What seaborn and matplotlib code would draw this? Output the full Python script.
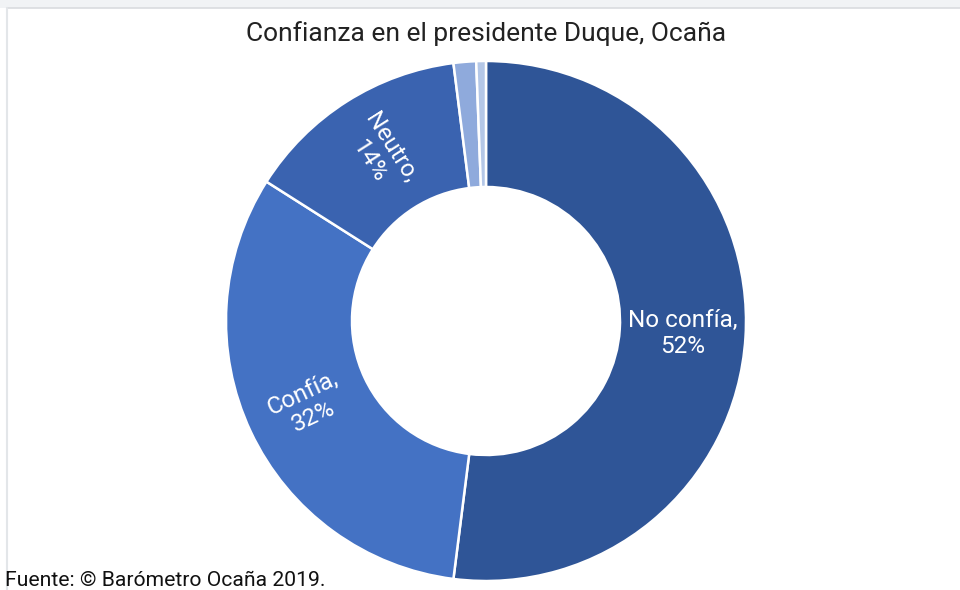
import numpy as np
import matplotlib.pyplot as plt
import seaborn as sns

# data
categorias = ['No confía', 'Confía', 'Neutro', 'NS/NR', 'Otro']
porcentajes = [52, 32, 14, 1.4, 0.6]
mostrar = [True, True, True, False, False]
colores = ['#2F5597', '#4472C4', '#3A63B0', '#8FAADC', '#B4C7E7']

sns.set_theme(style='white')
plt.rcParams['font.family'] = ['Roboto', 'DejaVu Sans']

fig = plt.figure(figsize=(9.6, 5.9), dpi=100)
ax = fig.add_axes([0, 0, 1, 1])

# soft frame: grey band on top, thin line on the left
ax.axhspan(582, 590, xmin=0, xmax=1, color='#F1F3F5', lw=0)
ax.plot([7, 960], [582, 582], color='#D9DCDF', lw=1.2)
ax.plot([7, 7], [0, 582], color='#E3E6E9', lw=1.5)

cx, cy, r, ancho = 486, 269, 260, 126
wedges, _ = ax.pie(porcentajes, colors=colores, startangle=90, counterclock=False,
                   center=(cx, cy), radius=r, frame=True,
                   wedgeprops=dict(width=ancho, edgecolor='white', linewidth=1.8))
ax.set_xlim(0, 960)
ax.set_ylim(0, 590)
ax.set_aspect('equal')
ax.axis('off')

rl = r - ancho / 2
for w, cat, p, ok in zip(wedges, categorias, porcentajes, mostrar):
    if not ok:
        continue
    ang = (w.theta1 + w.theta2) / 2
    x = cx + rl * np.cos(np.radians(ang))
    y = cy + rl * np.sin(np.radians(ang))
    a = ang % 360
    rot = a - 180 if 90 < a < 270 else 0
    ax.text(x, y, f'{cat},\n{p:.0f}%', color='white', fontsize=17.5, ha='center',
            va='center', rotation=rot, rotation_mode='anchor', linespacing=1.15)

ax.text(486, 556, 'Confianza en el presidente Duque, Ocaña', fontsize=19,
        ha='center', va='center', color='#222222')
ax.text(5, 10, 'Fuente: © Barómetro Ocaña 2019.', fontsize=15.2,
        ha='left', va='center', color='#111111')

fig.savefig('out.png', dpi=100)
